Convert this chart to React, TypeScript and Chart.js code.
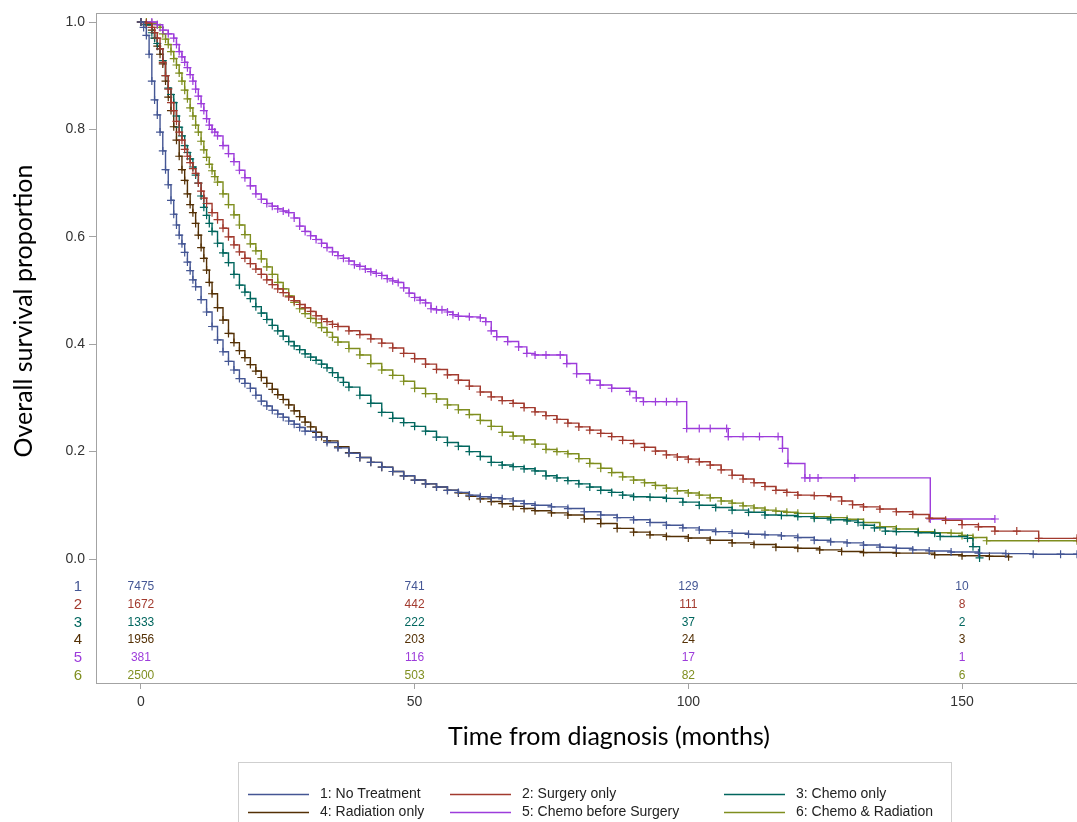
import React, { useEffect, useRef } from "react";
import { Chart, registerables } from "chart.js";

Chart.register(...registerables);

// ---------- data ----------
const groupLabels = [
  "1: No Treatment",
  "2: Surgery only",
  "3: Chemo only",
  "4: Radiation only",
  "5: Chemo before Surgery",
  "6: Chemo & Radiation",
];
const rowLabels = ["1", "2", "3", "4", "5", "6"];
const groupColors = ["#445694", "#A23A2E", "#01665E", "#543005", "#9D3CDB", "#7F8E1F"];

// 1: No Treatment
const t1 = [0, 0.5, 1, 1.5, 2, 2.5, 3, 3.5, 4, 4.5, 5, 5.5, 6, 6.5, 7, 7.5, 8, 8.5, 9, 9.5, 10, 11, 12, 13, 14, 15, 16, 17, 18, 19, 20, 21, 22, 23, 24, 25, 26, 27, 28, 29, 30, 32, 34, 36, 38, 40, 42, 44, 46, 48, 50, 52, 54, 56, 58, 60, 62, 64, 66, 68, 70, 72, 75, 78, 81, 84, 87, 90, 93, 96, 99, 102, 105, 108, 111, 114, 117, 120, 123, 126, 129, 132, 135, 138, 141, 144, 148, 153, 158, 163, 168, 171];
const s1 = [1, 0.99, 0.975, 0.94, 0.89, 0.855, 0.827, 0.795, 0.76, 0.725, 0.697, 0.668, 0.642, 0.622, 0.603, 0.587, 0.571, 0.553, 0.537, 0.52, 0.507, 0.483, 0.46, 0.433, 0.408, 0.386, 0.368, 0.352, 0.336, 0.327, 0.318, 0.305, 0.294, 0.285, 0.277, 0.27, 0.264, 0.257, 0.251, 0.245, 0.238, 0.227, 0.217, 0.207, 0.197, 0.189, 0.18, 0.171, 0.163, 0.155, 0.147, 0.14, 0.134, 0.128, 0.124, 0.119, 0.116, 0.114, 0.112, 0.108, 0.103, 0.1, 0.097, 0.094, 0.088, 0.082, 0.077, 0.073, 0.068, 0.063, 0.058, 0.054, 0.051, 0.048, 0.046, 0.045, 0.043, 0.04, 0.035, 0.032, 0.03, 0.026, 0.022, 0.02, 0.017, 0.015, 0.013, 0.011, 0.01, 0.009, 0.009, 0.009];

// 2: Surgery only
const t2 = [0, 1, 2, 2.5, 3, 3.5, 4, 4.5, 5, 5.5, 6, 6.5, 7, 7.5, 8, 8.5, 9, 9.5, 10, 10.5, 11, 11.5, 12, 13, 14, 15, 16, 17, 18, 19, 20, 21, 22, 23, 24, 25, 26, 27, 28, 29, 30, 31, 32, 33, 34, 35, 36, 38, 40, 42, 44, 46, 48, 50, 52, 54, 56, 58, 60, 62, 64, 66, 68, 70, 72, 74, 76, 78, 80, 82, 84, 86, 88, 90, 92, 94, 96, 98, 100, 102, 104, 106, 108, 110, 112, 114, 116, 118, 120, 123, 126, 128, 130, 132, 135, 138, 141, 144, 147, 150, 153, 156, 160, 164, 171];
const s2 = [1, 0.998, 0.99, 0.98, 0.97, 0.95, 0.925, 0.9, 0.875, 0.85, 0.835, 0.815, 0.795, 0.78, 0.763, 0.75, 0.738, 0.727, 0.718, 0.7, 0.685, 0.672, 0.662, 0.645, 0.632, 0.616, 0.6, 0.585, 0.572, 0.56, 0.55, 0.54, 0.53, 0.52, 0.511, 0.503, 0.496, 0.488, 0.481, 0.474, 0.468, 0.461, 0.453, 0.447, 0.442, 0.437, 0.433, 0.425, 0.418, 0.41, 0.402, 0.393, 0.383, 0.373, 0.363, 0.353, 0.343, 0.333, 0.322, 0.311, 0.302, 0.295, 0.29, 0.282, 0.274, 0.267, 0.26, 0.253, 0.246, 0.24, 0.234, 0.228, 0.221, 0.215, 0.208, 0.201, 0.194, 0.19, 0.186, 0.181, 0.175, 0.166, 0.156, 0.149, 0.142, 0.135, 0.128, 0.124, 0.119, 0.118, 0.116, 0.108, 0.101, 0.097, 0.093, 0.088, 0.083, 0.076, 0.072, 0.064, 0.06, 0.052, 0.052, 0.0385, 0.0385];

// 3: Chemo only
const t3 = [0, 1, 2, 2.5, 3, 3.5, 4, 4.5, 5, 5.5, 6, 6.5, 7, 7.5, 8, 8.5, 9, 9.5, 10, 10.5, 11, 11.5, 12, 12.5, 13, 14, 15, 16, 17, 18, 19, 20, 21, 22, 23, 24, 25, 26, 27, 28, 29, 30, 31, 32, 33, 34, 35, 36, 37, 38, 40, 42, 44, 46, 48, 50, 52, 54, 56, 58, 60, 62, 64, 66, 68, 70, 72, 74, 76, 78, 80, 82, 84, 86, 88, 90, 93, 96, 99, 102, 105, 108, 111, 114, 117, 120, 123, 126, 129, 131, 132, 134, 136, 138, 142, 145, 146, 151, 152, 153.2];
const s3 = [1, 0.995, 0.98, 0.97, 0.96, 0.95, 0.928, 0.9, 0.877, 0.865, 0.85, 0.825, 0.804, 0.788, 0.77, 0.757, 0.745, 0.73, 0.715, 0.7, 0.676, 0.655, 0.64, 0.625, 0.61, 0.588, 0.57, 0.552, 0.53, 0.51, 0.497, 0.485, 0.47, 0.458, 0.446, 0.435, 0.425, 0.415, 0.405, 0.397, 0.39, 0.382, 0.376, 0.37, 0.363, 0.356, 0.347, 0.338, 0.329, 0.32, 0.305, 0.29, 0.273, 0.262, 0.254, 0.247, 0.238, 0.227, 0.217, 0.21, 0.2, 0.191, 0.18, 0.175, 0.172, 0.168, 0.164, 0.155, 0.151, 0.146, 0.14, 0.134, 0.128, 0.124, 0.119, 0.116, 0.115, 0.113, 0.106, 0.1, 0.096, 0.091, 0.087, 0.082, 0.081, 0.079, 0.076, 0.073, 0.071, 0.068, 0.063, 0.058, 0.052, 0.051, 0.049, 0.048, 0.042, 0.0385, 0.023, 0.002];

// 4: Radiation only
const t4 = [0, 1, 2, 2.5, 3, 3.5, 4, 4.5, 5, 5.5, 6, 6.5, 7, 7.5, 8, 8.5, 9, 9.5, 10, 10.5, 11, 11.5, 12, 12.5, 13, 14, 15, 16, 17, 18, 19, 20, 21, 22, 23, 24, 25, 26, 27, 28, 29, 30, 31, 32, 33, 34, 36, 38, 40, 42, 44, 46, 48, 50, 52, 54, 56, 58, 60, 62, 64, 66, 68, 70, 72, 75, 78, 81, 84, 87, 90, 93, 96, 100, 104, 108, 112, 116, 120, 124, 128, 132, 138, 145, 150, 155, 158.5];
const s4 = [1, 0.995, 0.985, 0.97, 0.955, 0.94, 0.922, 0.89, 0.86, 0.835, 0.805, 0.78, 0.75, 0.725, 0.705, 0.68, 0.66, 0.645, 0.625, 0.603, 0.58, 0.56, 0.538, 0.515, 0.494, 0.468, 0.445, 0.42, 0.403, 0.388, 0.375, 0.362, 0.35, 0.338, 0.327, 0.316, 0.306, 0.297, 0.287, 0.276, 0.265, 0.255, 0.246, 0.236, 0.228, 0.22, 0.209, 0.198, 0.189, 0.18, 0.171, 0.163, 0.155, 0.147, 0.14, 0.134, 0.128, 0.123, 0.117, 0.112, 0.107, 0.103, 0.098, 0.094, 0.09, 0.086, 0.082, 0.075, 0.066, 0.057, 0.05, 0.045, 0.042, 0.039, 0.035, 0.03, 0.027, 0.022, 0.02, 0.017, 0.014, 0.012, 0.011, 0.008, 0.006, 0.005, 0.004];

// 5: Chemo before Surgery
const t5 = [0, 2, 3, 4, 5, 6, 6.5, 7, 7.5, 8, 8.5, 9, 9.5, 10, 10.5, 11, 11.5, 12, 12.5, 13, 13.5, 14, 15, 16, 17, 18, 19, 20, 21, 22, 23, 24, 25, 26, 27, 28, 29, 30, 31, 32, 33, 34, 35, 36, 37, 38, 39, 40, 41, 42, 43, 44, 45, 46, 47, 48, 49, 50, 51, 52, 53, 54, 55, 56, 57, 58, 60, 62, 63, 64, 65, 67, 69, 70.5, 72, 74, 76.6, 77.8, 79.6, 82, 83.9, 86, 89.3, 90.5, 91.8, 94, 96, 97.9, 99.7, 102, 104, 107, 107.3, 110, 113, 116.4, 117.2, 118.2, 121.3, 122.2, 123.7, 130.4, 144.2, 156];
const s5 = [1, 1, 0.995, 0.985, 0.978, 0.97, 0.958, 0.945, 0.935, 0.925, 0.915, 0.902, 0.89, 0.875, 0.862, 0.848, 0.835, 0.82, 0.808, 0.8, 0.795, 0.788, 0.77, 0.755, 0.74, 0.724, 0.71, 0.695, 0.68, 0.67, 0.662, 0.657, 0.652, 0.648, 0.645, 0.635, 0.62, 0.61, 0.602, 0.595, 0.588, 0.58, 0.572, 0.565, 0.56, 0.555, 0.548, 0.545, 0.54, 0.535, 0.532, 0.528, 0.522, 0.518, 0.515, 0.505, 0.495, 0.487, 0.482, 0.477, 0.466, 0.464, 0.464, 0.46, 0.455, 0.452, 0.451, 0.449, 0.442, 0.425, 0.414, 0.405, 0.395, 0.383, 0.38, 0.38, 0.38, 0.364, 0.345, 0.333, 0.324, 0.318, 0.312, 0.3, 0.293, 0.293, 0.293, 0.293, 0.243, 0.243, 0.243, 0.243, 0.228, 0.228, 0.228, 0.228, 0.206, 0.178, 0.151, 0.151, 0.151, 0.151, 0.0745, 0.0745];

// 6: Chemo & Radiation
const t6 = [0, 1, 2, 3, 3.5, 4, 4.5, 5, 5.5, 6, 6.5, 7, 7.5, 8, 8.5, 9, 9.5, 10, 10.5, 11, 11.5, 12, 12.5, 13, 13.5, 14, 15, 16, 17, 18, 19, 20, 21, 22, 23, 24, 25, 26, 27, 28, 29, 30, 31, 32, 33, 34, 35, 36, 38, 40, 42, 44, 46, 48, 50, 52, 54, 56, 58, 60, 62, 64, 66, 68, 70, 72, 74, 76, 78, 80, 82, 84, 86, 88, 90, 92, 94, 96, 98, 100, 102, 104, 106, 108, 110, 112, 114, 116, 118, 120, 123, 126, 129, 132, 135, 138, 142, 145, 148, 150, 152, 154.5, 171];
const s6 = [1, 1, 0.998, 0.995, 0.99, 0.978, 0.968, 0.958, 0.945, 0.932, 0.92, 0.905, 0.89, 0.873, 0.857, 0.84, 0.825, 0.808, 0.795, 0.778, 0.762, 0.748, 0.735, 0.723, 0.712, 0.702, 0.68, 0.66, 0.641, 0.622, 0.604, 0.587, 0.574, 0.559, 0.544, 0.53, 0.515, 0.503, 0.49, 0.478, 0.466, 0.457, 0.448, 0.44, 0.431, 0.422, 0.413, 0.404, 0.392, 0.38, 0.364, 0.352, 0.342, 0.331, 0.318, 0.308, 0.298, 0.287, 0.278, 0.269, 0.258, 0.247, 0.236, 0.229, 0.222, 0.214, 0.204, 0.2, 0.196, 0.187, 0.178, 0.169, 0.161, 0.153, 0.147, 0.142, 0.137, 0.132, 0.127, 0.123, 0.119, 0.114, 0.108, 0.104, 0.099, 0.095, 0.091, 0.089, 0.087, 0.085, 0.079, 0.077, 0.074, 0.068, 0.06, 0.056, 0.051, 0.049, 0.048, 0.044, 0.04, 0.034, 0.034];

const seriesTimes = [t1, t2, t3, t4, t5, t6];
const seriesSurv = [s1, s2, s3, s4, s5, s6];

// numbers at risk
const atRiskTimes = [0, 50, 100, 150];
const atRisk1 = [7475, 741, 129, 10];
const atRisk2 = [1672, 442, 111, 8];
const atRisk3 = [1333, 222, 37, 2];
const atRisk4 = [1956, 203, 24, 3];
const atRisk5 = [381, 116, 17, 1];
const atRisk6 = [2500, 503, 82, 6];
const atRiskRows = [atRisk1, atRisk2, atRisk3, atRisk4, atRisk5, atRisk6];

const xTicks = [0, 50, 100, 150];
const yTicks = [0, 0.2, 0.4, 0.6, 0.8, 1.0];
const xTitle = "Time from diagnosis (months)";
const yTitle = "Overall survival proportion";

// ---------- drawing ----------
const FRAME = "#a3a3a3";

const decorPlugin = {
  id: "kmDecor",
  afterDraw(chart: any) {
    const { ctx, chartArea, scales } = chart;
    const xs = scales.x;
    const ys = scales.y;
    ctx.save();
    // frame (wall border)
    ctx.strokeStyle = FRAME;
    ctx.lineWidth = 1;
    ctx.strokeRect(
      Math.round(chartArea.left) + 0.5,
      Math.round(chartArea.top) + 0.5,
      Math.round(chartArea.right - chartArea.left),
      Math.round(chartArea.bottom - chartArea.top)
    );

    // at-risk table
    const zeroY = ys.getPixelForValue(0);
    const firstRow = zeroY + 28;
    const rowStep = 17.7;
    ctx.textBaseline = "middle";
    atRiskRows.forEach((row, i) => {
      const y = firstRow + i * rowStep;
      ctx.fillStyle = groupColors[i];
      ctx.font = "15px 'Liberation Sans', Arial, sans-serif";
      ctx.textAlign = "center";
      ctx.fillText(rowLabels[i], 78, y);
      ctx.font = "12px 'Liberation Sans', Arial, sans-serif";
      row.forEach((n, j) => {
        ctx.fillText(String(n), xs.getPixelForValue(atRiskTimes[j]), y);
      });
    });

    // axis titles
    ctx.fillStyle = "#000";
    ctx.font = "25px Lato, 'Open Sans', sans-serif";
    ctx.textAlign = "center";
    ctx.textBaseline = "middle";
    ctx.fillText(xTitle, 609, 737);
    ctx.save();
    ctx.translate(24, 311);
    ctx.rotate(-Math.PI / 2);
    ctx.fillText(yTitle, 0, 0);
    ctx.restore();

    // legend
    const boxL = 238, boxT = 762, boxR = 951;
    ctx.strokeStyle = "#cfcfcf";
    ctx.lineWidth = 1;
    ctx.strokeRect(boxL + 0.5, boxT + 0.5, boxR - boxL, 100);
    const colX = [248, 450, 724];
    const rowY = [794, 812];
    ctx.font = "14px 'Liberation Sans', Arial, sans-serif";
    ctx.textAlign = "left";
    groupLabels.forEach((lab, i) => {
      const cx = colX[i % 3];
      const cy = rowY[Math.floor(i / 3)];
      ctx.strokeStyle = groupColors[i];
      ctx.lineWidth = 1.5;
      ctx.beginPath();
      ctx.moveTo(cx, cy + 0.5);
      ctx.lineTo(cx + 61, cy + 0.5);
      ctx.stroke();
      ctx.fillStyle = "#222";
      ctx.fillText(lab, cx + 72, cy);
    });
    ctx.restore();
  },
};

export default function App() {
  const ref = useRef<HTMLCanvasElement | null>(null);
  useEffect(() => {
    if (!ref.current) return;
    const datasets = seriesTimes.map((ts, i) => ({
      label: groupLabels[i],
      data: ts.map((t, k) => ({ x: t, y: seriesSurv[i][k] })),
      stepped: true as const,
      borderColor: groupColors[i],
      backgroundColor: groupColors[i],
      borderWidth: 1.4,
      pointStyle: "cross" as const,
      pointRadius: 4,
      pointBorderWidth: 1.2,
      pointBorderColor: groupColors[i],
      fill: false,
    }));
    const chart = new Chart(ref.current, {
      type: "line",
      data: { datasets },
      options: {
        responsive: false,
        animation: false,
        events: [],
        layout: { autoPadding: false, padding: { left: 0, top: 13, right: 0, bottom: 99 } },
        plugins: { legend: { display: false }, tooltip: { enabled: false } },
        scales: {
          x: {
            type: "linear",
            min: -8.2,
            max: 171,
            afterBuildTicks: (s: any) => {
              s.ticks = xTicks.map((v) => ({ value: v }));
            },
            afterFit: (s: any) => {
              s.height = 40;
            },
            grid: { drawOnChartArea: false, drawTicks: true, tickLength: 6, color: FRAME },
            border: { display: true, color: FRAME },
            ticks: {
              color: "#333",
              font: { family: "'Liberation Sans', Arial, sans-serif", size: 14 },
              padding: 5,
              maxRotation: 0,
              autoSkip: false,
              callback: (v: any) => String(v),
            },
          },
          y: {
            type: "linear",
            min: -0.2309,
            max: 1.0168,
            afterBuildTicks: (s: any) => {
              s.ticks = yTicks.map((v) => ({ value: v }));
            },
            afterFit: (s: any) => {
              s.width = 96;
            },
            grid: { drawOnChartArea: false, drawTicks: true, tickLength: 7, color: FRAME },
            border: { display: true, color: FRAME },
            ticks: {
              color: "#333",
              font: { family: "'Liberation Sans', Arial, sans-serif", size: 14 },
              padding: 4,
              autoSkip: false,
              callback: (v: any) => Number(v).toFixed(1),
            },
          },
        },
      },
      plugins: [decorPlugin],
    });
    return () => chart.destroy();
  }, []);
  return (
    <div style={{ position: "absolute", left: 0, top: 0, width: 1077, height: 822, background: "#fff" }}>
      <canvas ref={ref} width={1077} height={822} style={{ display: "block" }} />
    </div>
  );
}
